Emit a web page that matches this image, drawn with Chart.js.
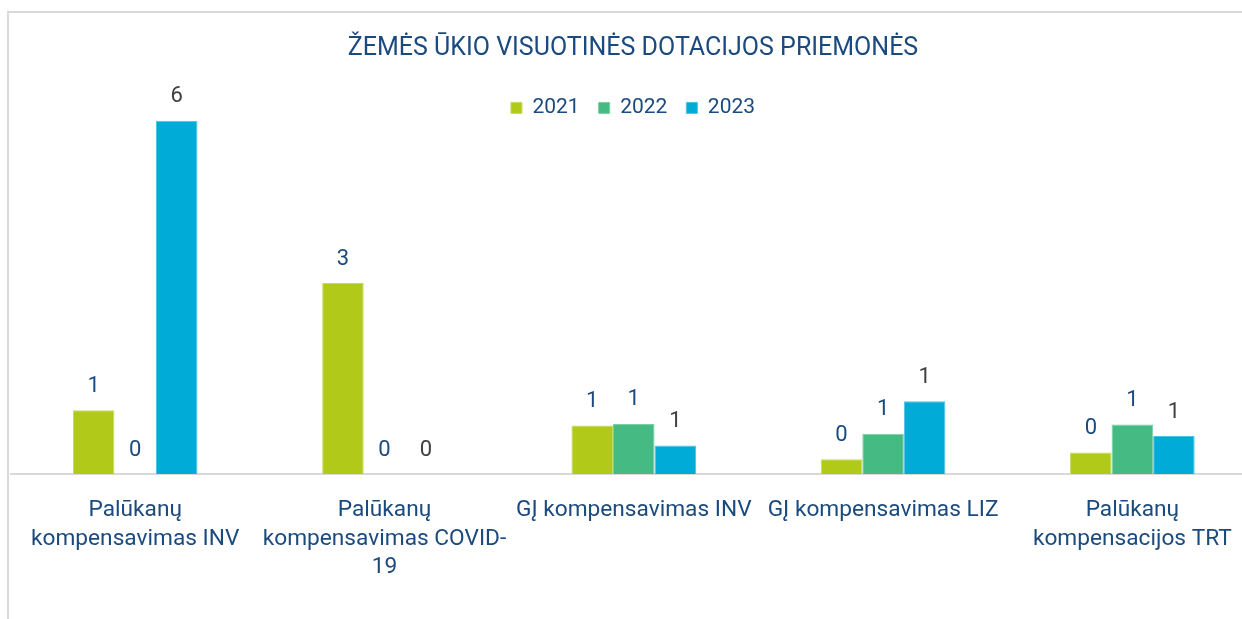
<!DOCTYPE html>
<html><head><meta charset="utf-8">
<script src="https://cdn.jsdelivr.net/npm/chart.js@4/dist/chart.umd.min.js"></script>
<style>
html,body{margin:0;padding:0;background:#fff;overflow:hidden;width:1242px;height:619px;}
#frame{position:absolute;left:7px;top:11px;width:1248px;height:700px;border-top:2px solid #d9d9d9;border-left:2px solid #d9d9d9;}
#frame canvas{display:block}
</style></head><body>
<div id="frame"><canvas id="c" width="1248" height="690"></canvas></div>
<script>
const categories = [
  ["Palūkanų", "kompensavimas INV"],
  ["Palūkanų", "kompensavimas COVID-", "19"],
  "GĮ kompensavimas INV",
  "GĮ kompensavimas LIZ",
  ["Palūkanų", "kompensacijos TRT"]
];
const seriesNames = ["2021", "2022", "2023"];
const values2021 = [1.16, 3.47, 0.88, 0.27, 0.39];
const values2022 = [0, 0, 0.91, 0.73, 0.90];
const values2023 = [6.42, 0, 0.52, 1.32, 0.69];
const barColors = ["#b1c918", "#45ba82", "#00acd7"];
const barEdges = ["#c6d95a", "#7ccfa5", "#4cc3e3"];
const labelColors = ["#1b4a7e", "#1b4a7e", "#404040"];
const BLUE = "#1b4a7e";

const valueLabels = {
  id: 'valueLabels',
  afterDatasetsDraw(chart) {
    const ctx = chart.ctx;
    chart.data.datasets.forEach((ds, i) => {
      const meta = chart.getDatasetMeta(i);
      meta.data.forEach((bar, j) => {
        ctx.save();
        ctx.font = '22px Roboto';
        ctx.fillStyle = labelColors[i];
        ctx.textAlign = 'center';
        ctx.textBaseline = 'middle';
        ctx.fillText(String(Math.round(ds.data[j])), bar.x, bar.y - 24);
        ctx.restore();
      });
    });
  }
};

const allValues = [values2021, values2022, values2023];
new Chart(document.getElementById('c'), {
  type: 'bar',
  data: {
    labels: categories,
    datasets: allValues.map((vals, i) => ({
      label: seriesNames[i],
      data: vals,
      backgroundColor: barColors[i],
      borderColor: barEdges[i],
      borderWidth: 1,
      categoryPercentage: 0.5,
      barPercentage: 1,
      clip: false
    }))
  },
  options: {
    responsive: false,
    animation: false,
    layout: { padding: 0 },
    plugins: {
      title: {
        display: true,
        text: 'ŽEMĖS ŪKIO VISUOTINĖS DOTACIJOS PRIEMONĖS',
        color: BLUE,
        font: { family: 'Roboto', size: 25, weight: 'normal' },
        padding: { top: 21, bottom: 14.4 }
      },
      legend: {
        display: true,
        position: 'top',
        labels: {
          color: BLUE,
          font: { family: 'Roboto', size: 21 },
          boxWidth: 11,
          boxHeight: 11,
          padding: 19
        }
      },
      tooltip: { enabled: false }
    },
    scales: {
      x: {
        grid: { display: false, drawTicks: false },
        border: { display: true, color: '#d9d9d9', width: 2 },
        ticks: {
          color: BLUE,
          font: { family: 'Roboto', size: 22.7, lineHeight: 1.26 },
          padding: 22,
          maxRotation: 0,
          autoSkip: false
        },
        afterFit(axis) { axis.height = 229; }
      },
      y: {
        display: false,
        min: 0,
        max: 6.28
      }
    }
  },
  plugins: [valueLabels]
});
</script>
</body></html>
